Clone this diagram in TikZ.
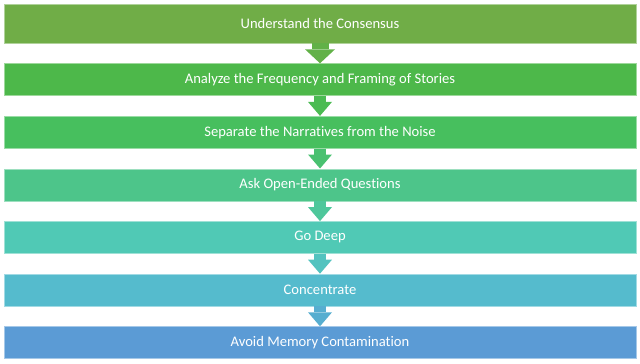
\documentclass[tikz,border=0pt]{standalone}
\usepackage{fontspec}
\setmainfont{Carlito}[Ligatures=NoCommon]
\usetikzlibrary{positioning,arrows.meta}

\definecolor{stepA}{HTML}{70AD47}
\definecolor{stepB}{HTML}{4DB84A}
\definecolor{stepC}{HTML}{47BF5E}
\definecolor{stepD}{HTML}{4DC58A}
\definecolor{stepE}{HTML}{50C9B5}
\definecolor{stepF}{HTML}{55BBCD}
\definecolor{stepG}{HTML}{5B9BD5}

\begin{document}
\begin{tikzpicture}[
  x=1pt, y=1pt,
  box/.style={fill=#1, draw=#1!55!white, line width=0.6pt, text=white, minimum width=632pt, minimum height=32pt, inner sep=0pt, font=\fontsize{14.6}{17}\selectfont},
  arr/.style={draw=#1, line width=12pt, -{Triangle[length=14pt, width=24pt, line width=0pt]}}
]
  \useasboundingbox (0,0) rectangle (640,-364);
  \node[box=stepA, minimum height=39pt] (cons) at (320,-23.5) {Understand the Consensus};
  \node[box=stepB, below=20pt of cons] (freq) {Analyze the Frequency and Framing of Stories};
  \node[box=stepC, below=20pt of freq] (sep) {Separate the Narratives from the Noise};
  \node[box=stepD, below=20pt of sep] (ask) {Ask Open-Ended Questions};
  \node[box=stepE, below=20pt of ask] (deep) {Go Deep};
  \node[box=stepF, below=20pt of deep] (conc) {Concentrate};
  \node[box=stepG, below=20pt of conc] (mem) {Avoid Memory Contamination};
  \draw[arr=stepA!60!stepB, line width=17pt, -{Triangle[length=14pt, width=30pt, line width=0pt]}] (cons) -- (freq);
  \draw[arr=stepB!60!stepC] (freq) -- (sep);
  \draw[arr=stepC!60!stepD] (sep) -- (ask);
  \draw[arr=stepD!60!stepE] (ask) -- (deep);
  \draw[arr=stepE!60!stepF] (deep) -- (conc);
  \draw[arr=stepF!60!stepG] (conc) -- (mem);
\end{tikzpicture}
\end{document}
